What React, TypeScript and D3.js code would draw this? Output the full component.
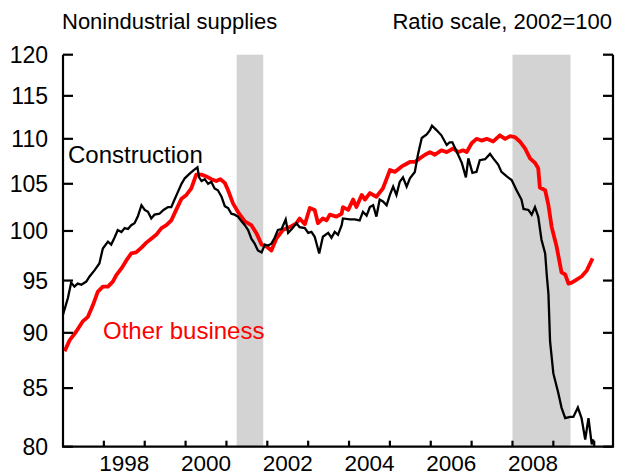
import React from "react";
import * as d3 from "d3";

const constructionDates = [
  1997.0, 1997.12, 1997.2, 1997.28, 1997.36, 1997.45, 1997.57, 1997.65, 1997.77, 1997.89,
  1997.975, 1998.1, 1998.18, 1998.26, 1998.34, 1998.43, 1998.51, 1998.59, 1998.67, 1998.75,
  1998.83, 1998.92, 1999.0, 1999.08, 1999.16, 1999.24, 1999.36, 1999.46, 1999.57, 1999.65,
  1999.73, 1999.81, 1999.9, 1999.98, 2000.1, 2000.2, 2000.29, 2000.33, 2000.39, 2000.47,
  2000.55, 2000.63, 2000.71, 2000.79, 2000.88, 2000.96, 2001.04, 2001.12, 2001.2, 2001.28,
  2001.37, 2001.45, 2001.53, 2001.61, 2001.69, 2001.77, 2001.86, 2001.94, 2002.02, 2002.1,
  2002.18, 2002.26, 2002.35, 2002.45, 2002.51, 2002.6, 2002.71, 2002.79, 2002.92, 2003.0,
  2003.08, 2003.16, 2003.27, 2003.36, 2003.49, 2003.57, 2003.65, 2003.73, 2003.82, 2003.85,
  2004.02, 2004.14, 2004.26, 2004.34, 2004.43, 2004.51, 2004.59, 2004.67, 2004.75, 2004.83,
  2004.92, 2005.0, 2005.08, 2005.16, 2005.24, 2005.32, 2005.41, 2005.49, 2005.61, 2005.69,
  2005.78, 2005.9, 2005.98, 2006.03, 2006.14, 2006.26, 2006.39, 2006.46, 2006.53, 2006.63,
  2006.76, 2006.86, 2006.92, 2007.02, 2007.12, 2007.2, 2007.33, 2007.45, 2007.53, 2007.65,
  2007.73, 2007.86, 2007.98, 2008.1, 2008.22, 2008.27, 2008.39, 2008.47, 2008.55, 2008.63,
  2008.71, 2008.8, 2008.84, 2008.88, 2008.92, 2009.0, 2009.12, 2009.2, 2009.29, 2009.41,
  2009.49, 2009.6, 2009.69, 2009.78, 2009.86, 2009.94, 2009.98,
];
const constructionValues = [
  91.7, 93.3, 94.8, 94.4, 94.7, 94.6, 94.9, 95.4, 96.0, 96.7,
  98.2, 98.9, 98.6, 99.3, 100.1, 99.9, 100.3, 100.2, 100.6, 100.8,
  101.5, 102.7, 102.2, 102.0, 101.3, 101.7, 101.8, 102.2, 102.5, 102.5,
  103.3, 104.1, 105.0, 105.6, 106.1, 106.5, 106.8, 105.7, 105.3, 105.5,
  105.0, 105.2, 104.5, 104.3, 103.6, 102.6, 102.4, 101.8, 101.7, 101.5,
  101.0, 100.6, 100.1, 99.2, 98.7, 98.0, 97.8, 98.6, 98.5, 98.7,
  99.3, 100.1, 100.2, 101.2, 99.8, 100.2, 100.8, 100.4, 100.3, 99.8,
  99.9, 99.4, 97.7, 99.4, 99.8, 99.3, 99.9, 99.6, 100.6, 101.3,
  101.2, 101.2, 101.1, 102.0, 101.6, 102.5, 102.7, 101.5, 103.3, 103.1,
  102.7, 103.8, 104.7, 103.8, 105.2, 105.7, 104.7, 105.6, 106.3, 108.3,
  110.1, 110.5, 111.0, 111.5, 111.0, 110.4, 109.3, 109.6, 109.6, 108.6,
  107.3, 105.7, 107.8, 106.2, 106.3, 107.6, 107.7, 108.3, 107.8, 107.1,
  106.3, 105.8, 105.4, 104.3, 103.3, 102.3, 102.2, 101.7, 102.5, 101.5,
  99.1, 97.7, 95.5, 93.7, 89.2, 86.3, 84.6, 83.3, 82.4, 82.5,
  82.5, 83.3, 82.4, 80.6, 82.4, 80.2, 80.6,
];

const otherDates = [
  1997.04, 1997.16, 1997.32, 1997.49, 1997.61, 1997.73, 1997.85, 1997.975, 1998.1, 1998.22,
  1998.3, 1998.43, 1998.55, 1998.67, 1998.79, 1998.92, 1999.04, 1999.16, 1999.28, 1999.41,
  1999.53, 1999.65, 1999.77, 1999.9, 2000.02, 2000.14, 2000.26, 2000.39, 2000.51, 2000.63,
  2000.75, 2000.85, 2000.96, 2001.04, 2001.16, 2001.28, 2001.45, 2001.61, 2001.73, 2001.86,
  2001.98, 2002.1, 2002.22, 2002.38, 2002.55, 2002.71, 2002.79, 2002.92, 2003.04, 2003.16,
  2003.24, 2003.36, 2003.45, 2003.53, 2003.69, 2003.82, 2003.85, 2003.98, 2004.1, 2004.18,
  2004.31, 2004.39, 2004.51, 2004.67, 2004.83, 2005.0, 2005.12, 2005.29, 2005.41, 2005.49,
  2005.61, 2005.73, 2005.86, 2005.98, 2006.1, 2006.26, 2006.39, 2006.55, 2006.67, 2006.79,
  2006.88, 2007.0, 2007.12, 2007.24, 2007.37, 2007.53, 2007.69, 2007.82, 2007.94, 2008.06,
  2008.18, 2008.31, 2008.43, 2008.55, 2008.63, 2008.67, 2008.8, 2008.88, 2008.96, 2009.08,
  2009.2, 2009.29, 2009.37, 2009.45, 2009.57, 2009.69, 2009.82, 2009.96,
];
const otherValues = [
  88.3, 89.3, 90.1, 91.1, 91.5, 92.6, 93.9, 94.4, 94.4, 94.9,
  95.5, 96.2, 97.0, 97.7, 97.8, 98.3, 98.8, 99.2, 99.6, 100.3,
  100.6, 101.1, 102.2, 103.4, 103.8, 104.5, 106.0, 106.0, 105.8, 105.5,
  105.3, 105.5, 105.1, 104.3, 102.9, 102.0, 101.0, 100.6, 99.8, 98.6,
  98.4, 98.0, 99.2, 100.1, 100.4, 100.8, 101.3, 100.7, 102.4, 102.2,
  100.8, 101.3, 101.1, 101.7, 101.5, 101.8, 102.5, 102.2, 103.3, 102.5,
  103.8, 103.3, 104.0, 103.6, 104.5, 106.5, 106.3, 106.9, 107.2, 107.4,
  107.4, 107.8, 108.2, 108.5, 108.2, 108.7, 108.5, 108.9, 108.5, 108.7,
  108.5, 109.5, 110.0, 109.8, 110.0, 109.7, 110.4, 110.0, 110.3, 110.2,
  109.7, 108.9, 107.8, 107.3, 106.7, 104.6, 104.3, 102.7, 100.4, 98.4,
  95.8, 95.6, 94.7, 94.8, 95.1, 95.4, 96.0, 97.2,
];

const recessionStarts = [2001.25, 2008.0];
const recessionEnds = [2001.9, 2009.42];

const yTicks = [80, 85, 90, 95, 100, 105, 110, 115, 120];
const xTickYears = [1998, 1999, 2000, 2001, 2002, 2003, 2004, 2005, 2006, 2007, 2008, 2009, 2010];
const xLabelYears = [1998, 2000, 2002, 2004, 2006, 2008];

const W = 618;
const H = 476;
const left = 63;
const right = 613;
const top = 54.7;
const bottom = 446.7;
const FONT = "'Liberation Sans', Arial, Helvetica, sans-serif";

export default function App() {
  const x = d3.scaleLinear().domain([1997, 2010.46]).range([left, right]);
  const y = d3.scaleLog().domain([80, 120]).range([bottom, top]);

  const line = d3
    .line<[number, number]>()
    .x((d) => x(d[0]))
    .y((d) => y(d[1]));

  const cons: [number, number][] = constructionDates.map((t, i) => [t, constructionValues[i]]);
  const oth: [number, number][] = otherDates.map((t, i) => [t, otherValues[i]]);

  return (
    <svg
      width={W}
      height={H}
      style={{ position: "absolute", left: 0, top: 0, background: "#fff" }}
      fontFamily={FONT}
    >
      {recessionStarts.map((s, i) => (
        <rect
          key={i}
          x={x(s)}
          y={top}
          width={x(recessionEnds[i]) - x(s)}
          height={bottom - top}
          fill="#d3d3d3"
        />
      ))}
      <path d={line(oth) || ""} fill="none" stroke="#ff0000" strokeWidth={3.8} strokeLinejoin="round" />
      <path d={line(cons) || ""} fill="none" stroke="#000" strokeWidth={2.3} strokeLinejoin="miter" />

      {/* axes */}
      <path
        d={`M${left},${top}V${bottom}H${right}V${top}`}
        fill="none"
        stroke="#000"
        strokeWidth={2.2}
      />
      {yTicks.map((v) => (
        <g key={v}>
          <line x1={left} x2={left + 10} y1={y(v)} y2={y(v)} stroke="#000" strokeWidth={2.2} />
          <line x1={right - 10} x2={right} y1={y(v)} y2={y(v)} stroke="#000" strokeWidth={2.2} />
          <text x={48} y={y(v)} dy="0.36em" textAnchor="end" fontSize={23} fill="#000">
            {v}
          </text>
        </g>
      ))}
      {xTickYears.map((t) => (
        <line key={t} x1={x(t)} x2={x(t)} y1={bottom} y2={bottom - 6} stroke="#000" strokeWidth={2.2} />
      ))}
      {xLabelYears.map((t) => (
        <text key={t} x={x(t + 0.5)} y={471} textAnchor="middle" fontSize={22.5} fill="#000">
          {t}
        </text>
      ))}

      <text x={62} y={29} fontSize={22} fill="#000">
        Nonindustrial supplies
      </text>
      <text x={612} y={29} fontSize={22} textAnchor="end" fill="#000">
        Ratio scale, 2002=100
      </text>
      <text x={68} y={163} fontSize={24} fill="#000">
        Construction
      </text>
      <text x={103} y={339} fontSize={24} fill="#ff0000">
        Other business
      </text>
    </svg>
  );
}
